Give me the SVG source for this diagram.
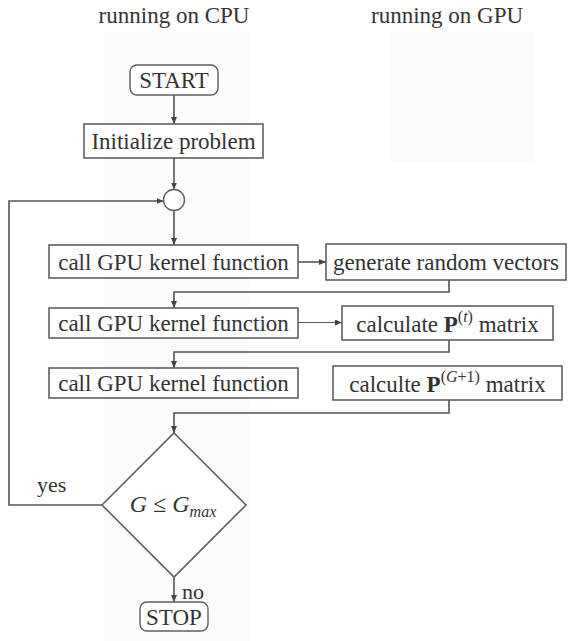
<svg xmlns="http://www.w3.org/2000/svg" width="568" height="641" viewBox="0 0 568 641">
  <style>
    .lane { fill: #fbfbfb; stroke: none; }
    .box { fill: #ffffff; stroke: #5f5f5f; stroke-width: 1.6; }
    .term { fill: #ffffff; stroke: #5f5f5f; stroke-width: 1.4; }
    .wire { fill: none; stroke: #555555; stroke-width: 1.6; }
    .thin { stroke-width: 1; }
    text { font-family: "Liberation Serif", "DejaVu Serif", serif; font-size: 23px; fill: #333333; }
    .c { text-anchor: middle; }
    .it { font-style: italic; }
    .bf { font-weight: bold; }
    .sup { font-size: 16px; }
    .lbl { font-size: 22px; }
    .math { font-size: 24px; }
  </style>
  <defs>
    <marker id="arrow" markerUnits="userSpaceOnUse" markerWidth="8" markerHeight="6" refX="7" refY="3" orient="auto">
      <path d="M0,0 L7,3 L0,6 z" fill="#444444"/>
    </marker>
  </defs>

  <!-- swim lanes -->
  <rect class="lane" x="104" y="32" width="145" height="609"/>
  <rect class="lane" x="391" y="32" width="144" height="131"/>

  <!-- lane titles -->
  <text class="c" x="174" y="23">running on CPU</text>
  <text class="c" x="447" y="23">running on GPU</text>

  <!-- connectors -->
  <g id="connectors">
    <path class="wire" d="M174,95 V124" marker-end="url(#arrow)"/>
    <path class="wire" d="M174,158 V189.5" marker-end="url(#arrow)"/>
    <path class="wire" d="M174,210.5 V245" marker-end="url(#arrow)"/>
    <path class="wire" d="M298,262 H326" marker-end="url(#arrow)"/>
    <path class="wire" d="M449,280 V292 H174 V308" marker-end="url(#arrow)"/>
    <path class="wire thin" d="M298,322.5 H342" marker-end="url(#arrow)"/>
    <path class="wire" d="M449,340 V352 H174 V368" marker-end="url(#arrow)"/>
    <path class="wire" d="M449,400 V413 H174 V433" marker-end="url(#arrow)"/>
    <path class="wire" d="M174,577 V602" marker-end="url(#arrow)"/>
    <path class="wire" d="M102,505 H9 V201 H163.5" marker-end="url(#arrow)"/>
    <text class="lbl" x="37" y="492">yes</text>
    <text class="lbl" x="182" y="599">no</text>
  </g>

  <g id="start">
    <rect class="term" x="130" y="65" width="88" height="30" rx="7"/>
    <text class="c" x="174" y="88">START</text>
  </g>

  <g id="init">
    <rect class="box" x="84" y="124" width="179" height="34"/>
    <text class="c" x="173.5" y="149">Initialize problem</text>
  </g>

  <g id="junction">
    <circle cx="174" cy="200" r="10.5" fill="#ffffff" stroke="#5f5f5f" stroke-width="1.4"/>
  </g>

  <g id="cpu-call-1">
    <rect class="box" x="49" y="245" width="249" height="33"/>
    <text class="c" x="173.5" y="270">call GPU kernel function</text>
  </g>

  <g id="gpu-random">
    <rect class="box" x="326" y="244" width="240" height="36"/>
    <text class="c" x="446" y="270">generate random vectors</text>
  </g>

  <g id="cpu-call-2">
    <rect class="box" x="49" y="308" width="249" height="30"/>
    <text class="c" x="173.5" y="331">call GPU kernel function</text>
  </g>

  <g id="gpu-pt">
    <rect class="box" x="342" y="306" width="211" height="34"/>
    <text class="c" x="447.5" y="332">calculate <tspan class="bf">P</tspan><tspan class="sup" dy="-10">(<tspan class="it">t</tspan>)</tspan><tspan dy="10"> matrix</tspan></text>
  </g>

  <g id="cpu-call-3">
    <rect class="box" x="49" y="368" width="249" height="30"/>
    <text class="c" x="173.5" y="391">call GPU kernel function</text>
  </g>

  <g id="gpu-pg">
    <rect class="box" x="333" y="366" width="229" height="34"/>
    <text class="c" x="447.5" y="392">calculte <tspan class="bf">P</tspan><tspan class="sup" dy="-10">(<tspan class="it">G</tspan>+1)</tspan><tspan dy="10"> matrix</tspan></text>
  </g>

  <g id="decision">
    <polygon class="box" points="174,433 246,505 174,577 102,505"/>
    <text class="c it math" x="173" y="512">G<tspan dx="6">≤</tspan><tspan dx="6">G</tspan><tspan class="sup" dy="5">max</tspan></text>
  </g>

  <g id="stop">
    <rect class="term" x="140" y="602" width="68" height="29" rx="7"/>
    <text class="c" x="174" y="625">STOP</text>
  </g>
</svg>
